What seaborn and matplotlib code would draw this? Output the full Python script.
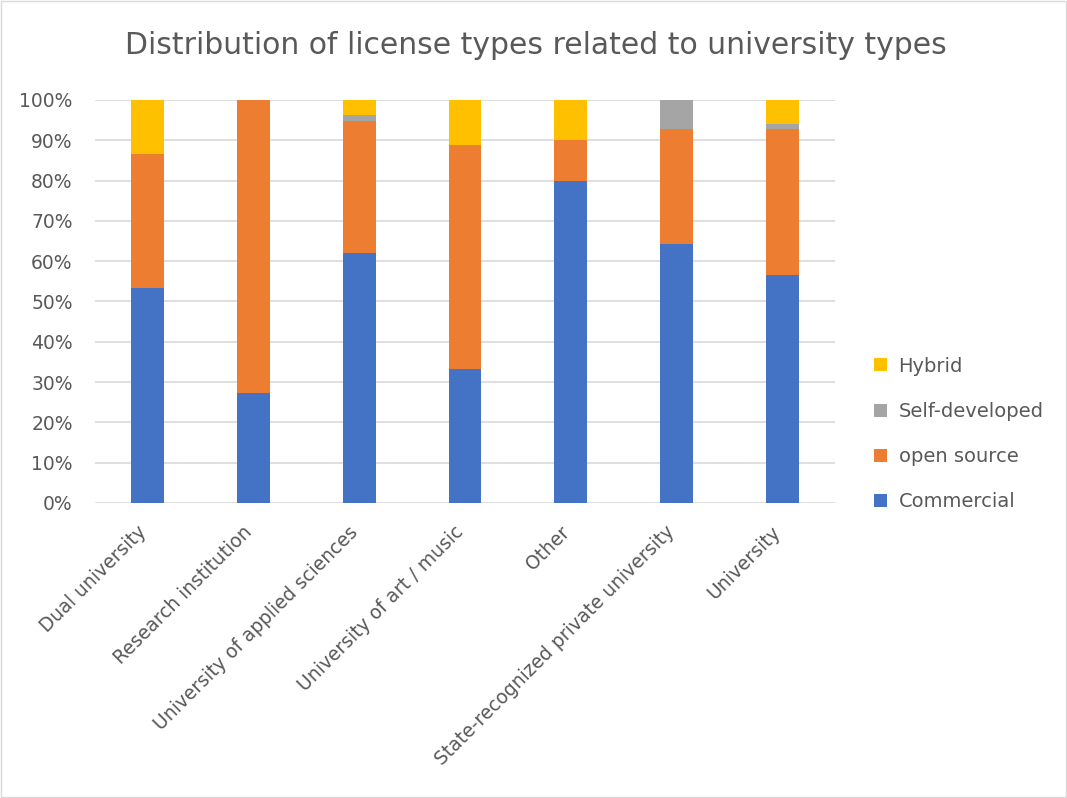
import matplotlib
matplotlib.use("Agg")
import matplotlib.pyplot as plt
import matplotlib.transforms as mtransforms
import seaborn as sns
import pandas as pd
import numpy as np
from matplotlib.patches import Patch, Rectangle
from matplotlib.ticker import FuncFormatter, MultipleLocator

categories = ["Dual university", "Research institution", "University of applied sciences",
              "University of art / music", "Other", "State-recognized private university",
              "University"]
commercial = [53.3, 27.3, 62.0, 33.3, 80.0, 64.3, 56.6]
open_source = [33.4, 72.7, 32.9, 55.6, 10.0, 28.6, 36.1]
self_developed = [0.0, 0.0, 1.3, 0.0, 0.0, 7.1, 1.4]
hybrid = [13.3, 0.0, 3.8, 11.1, 10.0, 0.0, 5.9]

series_names = ["Commercial", "open source", "Self-developed", "Hybrid"]
colors = {"Commercial": "#4472C4", "open source": "#ED7D31",
          "Self-developed": "#A5A5A5", "Hybrid": "#FFC000"}

sns.set_theme(style="white")
plt.rcParams['font.family'] = ['DejaVu Sans']

fig = plt.figure(figsize=(10.67, 7.98), dpi=100)
ax = fig.add_axes([0.089, 0.3697, 0.6936, 0.505])

vals = np.array([commercial, open_source, self_developed, hybrid])
cum = np.cumsum(vals, axis=0)
# draw from top-most cumulative down so lower segments overlay
for i in range(len(series_names) - 1, -1, -1):
    df = pd.DataFrame({"cat": categories, "val": cum[i]})
    sns.barplot(data=df, x="cat", y="val", color=colors[series_names[i]],
                width=0.31, ax=ax, saturation=1, zorder=3, linewidth=0)

ax.set_ylim(0, 100)
ax.yaxis.set_major_locator(MultipleLocator(10))
ax.yaxis.set_major_formatter(FuncFormatter(lambda v, p: f"{int(round(v))}%"))
ax.grid(axis="y", color="#D9D9D9", linewidth=1.2, zorder=0)
ax.set_axisbelow(True)
for s in ax.spines.values():
    s.set_visible(False)
ax.tick_params(axis="both", length=0, colors="#595959", labelsize=13.5)
ax.tick_params(axis="y", pad=16)
ax.tick_params(axis="x", pad=6)
ax.set_xlabel("")
ax.set_ylabel("")
ax.set_xlim(-0.5, len(categories) - 0.5)
offset = mtransforms.ScaledTranslation(-0.11, -0.11, fig.dpi_scale_trans)
for lab in ax.get_xticklabels():
    lab.set_rotation(45)
    lab.set_ha("right")
    lab.set_rotation_mode("anchor")
    lab.set_transform(lab.get_transform() + offset)

fig.text(0.502, 0.943, "Distribution of license types related to university types",
         ha="center", va="center", fontsize=21.5, color="#595959")

handles = [Patch(facecolor=colors[n], edgecolor="none") for n in reversed(series_names)]
fig.legend(handles, list(reversed(series_names)), loc="center left",
           bbox_to_anchor=(0.803, 0.456), frameon=False, fontsize=14,
           labelcolor="#595959", handlelength=0.65, handleheight=0.65,
           labelspacing=1.35, handletextpad=0.6)

fig.patches.append(Rectangle((0.001, 0.001), 0.998, 0.998, transform=fig.transFigure,
                             fill=False, edgecolor="#D9D9D9", linewidth=1))

fig.savefig("out.png", dpi=100)
